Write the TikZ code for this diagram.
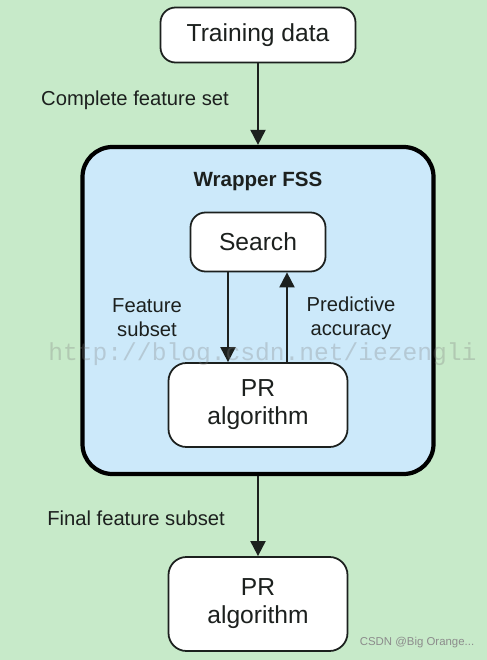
\documentclass[tikz,border=0pt]{standalone}
\usepackage{fontspec}
\setmainfont{Liberation Sans}
\newfontfamily\markfont{Liberation Mono}
\usetikzlibrary{arrows.meta,positioning}
\definecolor{bggreen}{RGB}{199,234,201}
\definecolor{fssblue}{RGB}{204,233,250}
\definecolor{inkgray}{RGB}{28,32,30}

\begin{document}
\begin{tikzpicture}[node distance=1.6cm,>={Triangle[length=3mm,width=3mm]}]
  \tikzstyle{block}=[rectangle,rounded corners=3mm,draw=inkgray,line width=1pt,
                     fill=white,align=center,text=inkgray,
                     font=\fontsize{14}{16}\selectfont]
  \tikzstyle{wrapper}=[rectangle,rounded corners=6mm,draw=black,line width=2.4pt,
                       fill=fssblue,minimum width=7.02cm,minimum height=6.54cm]
  \tikzstyle{flow}=[->,line width=1.1pt,draw=inkgray]
  \tikzstyle{caption}=[align=center,text=inkgray,font=\fontsize{11.5}{13.5}\selectfont]

  \fill[bggreen] (0,0) rectangle (9.74,-13.2);

  \node [block,minimum width=3.9cm,minimum height=1.1cm] (train) at (5.16,-0.70) {Training data};
  \node [wrapper] (fss) [below of=train,node distance=5.51cm] {};
  \node [caption,font=\bfseries\fontsize{11.7}{13.5}\selectfont] (title)
        [below of=train,node distance=2.92cm] {Wrapper FSS};
  \node [block,minimum width=2.7cm,minimum height=1.18cm] (search)
        [below of=title,node distance=1.22cm] {Search};
  \node [block,rounded corners=3.6mm,minimum width=3.58cm,minimum height=1.68cm] (prin)
        [below of=search,node distance=3.26cm] {PR\\algorithm};
  \node [block,rounded corners=3.6mm,minimum width=3.58cm,minimum height=1.88cm] (final)
        [below of=prin,node distance=3.98cm] {PR\\algorithm};

  % connectors
  \draw [flow] (train.south) -- (train.south |- fss.north);
  \draw [flow] ([xshift=-6mm]search.south) -- ([xshift=-6mm]search.south |- prin.north);
  \draw [flow] ([xshift=5.8mm]search.south |- prin.north) -- ([xshift=5.8mm]search.south);
  \draw [flow] (fss.south) -- (fss.south |- final.north);

  % labels
  \node [caption] (complete) at (2.70,-2.00) {Complete feature set};
  \node [caption] (subset) at (2.94,-6.36) {Feature\\subset};
  \node [caption] (accuracy) at (7.02,-6.36) {Predictive\\accuracy};
  \node [caption] (finalset) at (2.72,-10.36) {Final feature subset};

  % watermarks
  \node [text=gray,opacity=0.3,font=\markfont\fontsize{14}{16}\selectfont] (url)
        at (5.25,-7.08) {http://blog.csdn.net/iezengli};
  \node [text=gray!90,font=\fontsize{6.5}{8}\selectfont] (csdn) at (8.34,-12.86) {CSDN @Big Orange...};
\end{tikzpicture}
\end{document}
